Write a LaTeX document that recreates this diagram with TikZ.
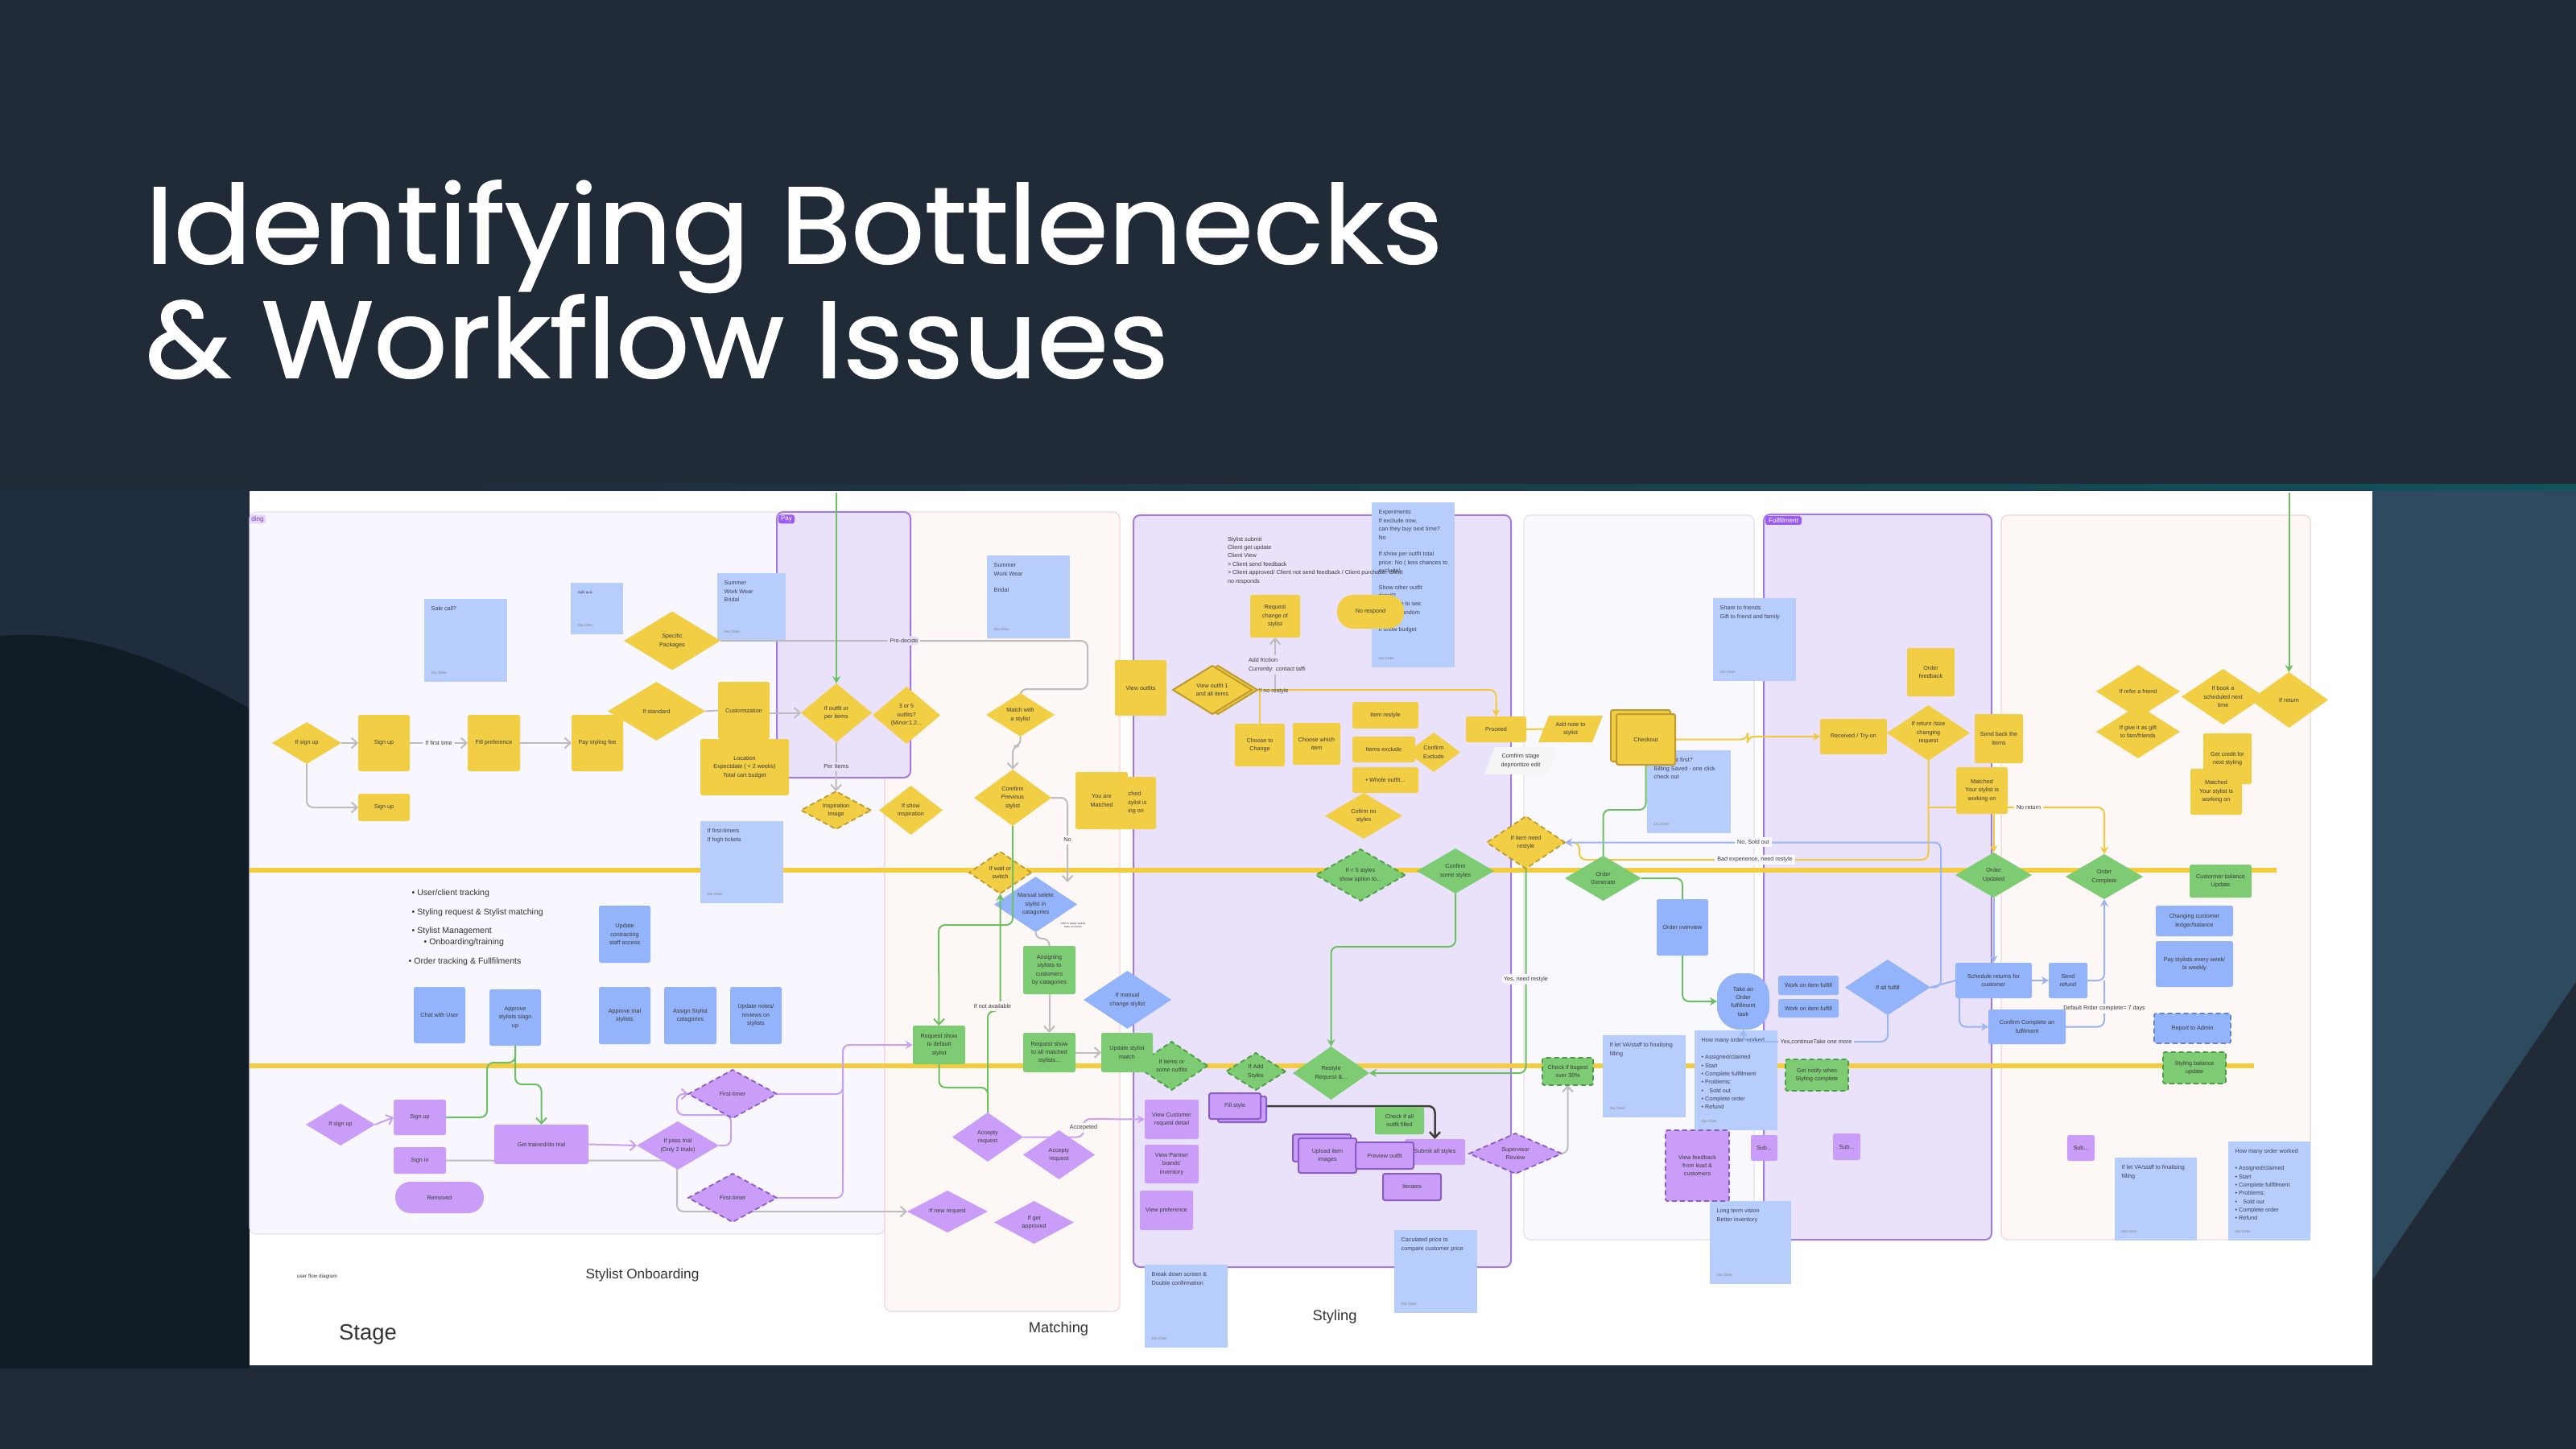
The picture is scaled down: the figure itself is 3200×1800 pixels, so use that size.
\documentclass[tikz,border=0pt]{standalone}
\usepackage{fontspec}
\usetikzlibrary{shapes.geometric,arrows.meta,fit,calc}
\newfontfamily\boardfont{Liberation Sans}
\newfontfamily\titlefont[FakeStretch=1.06,FakeBold=1.3]{Poppins}
\newcommand\tx{\boardfont\fontsize{2.05}{2.95}\selectfont}
\newcommand\txsig{\boardfont\fontsize{1.3}{1.6}\selectfont}
\definecolor{bgdark}{HTML}{212A37}
\definecolor{bgmid}{HTML}{1F2D3E}
\definecolor{bgdeep}{HTML}{111C26}
\definecolor{bgteal}{HTML}{2D4A5E}
\definecolor{yel}{HTML}{F2CE44}
\definecolor{yeld}{HTML}{BE9B2A}
\definecolor{grn}{HTML}{7DCB73}
\definecolor{grnd}{HTML}{4E9A45}
\definecolor{blu}{HTML}{93B3FA}
\definecolor{blud}{HTML}{6283CF}
\definecolor{bnote}{HTML}{B7CDFB}
\definecolor{pur}{HTML}{C99DF8}
\definecolor{purd}{HTML}{8B5CC8}
\definecolor{txt}{HTML}{3A3A3A}
\definecolor{ntxt}{HTML}{3B4058}
\definecolor{panOn}{HTML}{F8F6FE}
\definecolor{panLav}{HTML}{EAE2FB}
\definecolor{panLavB}{HTML}{A27AE6}
\definecolor{panPink}{HTML}{FDF7F5}
\definecolor{panPinkB}{HTML}{F3D5DB}
\definecolor{panWh}{HTML}{F9F8FE}
\definecolor{panWhB}{HTML}{E4DFF0}
\definecolor{lane}{HTML}{F4CD3E}
\definecolor{cgray}{HTML}{BDBDBD}
\definecolor{cgreen}{HTML}{6CC061}
\definecolor{cpur}{HTML}{C8A0F6}
\definecolor{cblue}{HTML}{9AB4F6}
\definecolor{cyel}{HTML}{F0CA3C}
\definecolor{tagp}{HTML}{9B5CF6}
\pgfdeclarelayer{bgl}\pgfdeclarelayer{notel}\pgfdeclarelayer{connl}
\pgfsetlayers{bgl,notel,connl,main}
\tikzset{
 nd/.style={font=\tx, text=txt, align=center, inner sep=0pt, outer sep=0pt},
 sz/.style args={#1/#2}{minimum width=#1mm, minimum height=#2mm},
 yb/.style={nd, rectangle, fill=yel, rounded corners=0.25mm},
 yd/.style={nd, diamond, aspect=1.6, fill=yel},
 gb/.style={nd, rectangle, fill=grn, rounded corners=0.25mm},
 gd/.style={nd, diamond, aspect=1.6, fill=grn},
 bb/.style={nd, rectangle, fill=blu, rounded corners=0.25mm},
 bd/.style={nd, diamond, aspect=1.6, fill=blu},
 pb/.style={nd, rectangle, fill=pur, rounded corners=0.25mm},
 pd/.style={nd, diamond, aspect=1.6, fill=pur},
 dsh/.style={draw=#1, line width=0.18mm, dash pattern=on 0.6mm off 0.4mm},
 bord/.style={draw=#1, line width=0.2mm},
 notebg/.style={rectangle, fill=bnote, inner sep=0pt, outer sep=0pt},
 notetx/.style={font=\tx, text=ntxt, align=left, inner sep=0pt},
 notesig/.style={font=\txsig, text=gray, inner sep=0pt},
 conn/.style={line width=0.2mm, rounded corners=0.8mm},
 gcon/.style={conn, draw=cgray},
 grcon/.style={conn, draw=cgreen},
 pcon/.style={conn, draw=cpur},
 bcon/.style={conn, draw=cblue},
 ycon/.style={conn, draw=cyel},
 dcon/.style={conn, draw=black!75, line width=0.25mm},
 opena/.style={-{Straight Barb[length=0.7mm,width=1.3mm]}},
 filla/.style={-{Stealth[length=0.9mm,width=1mm]}},
 lbl/.style={font=\tx, text=txt, inner sep=0.3mm, fill=#1},
 lbl/.default=white,
 tagst/.style={font=\boardfont\fontsize{2.3}{2.6}\selectfont, inner sep=0pt, rounded corners=0.3mm},
 heading/.style={font=\boardfont\fontsize{#1}{#1}\selectfont, text=black!80, inner sep=0pt},
 ttl/.style={font=\titlefont\fontsize{38.4}{40}\selectfont, text=white, inner sep=0pt, anchor=base west},
 bul/.style={font=\boardfont\fontsize{3}{3.6}\selectfont, text=black!80, inner sep=0pt, anchor=west},
}
\newcommand\stnote[6]{%
  \begin{pgfonlayer}{notel}
  \node[notebg, fit={(#2,#3) (#4,#5)}] (#1) {};
  \node[notetx, anchor=north west] (#1t) at ([shift={(0.8mm,-0.9mm)}]#1.north west) {#6};
  \node[notesig, anchor=south west] (#1s) at ([shift={(0.8mm,0.9mm)}]#1.south west) {Dio Chen};
  \end{pgfonlayer}}
\begin{document}
\begin{tikzpicture}[x=0.1mm,y=-0.1mm]
\useasboundingbox (0,0) rectangle (3200,1800);
\begin{pgfonlayer}{bgl}
\fill[bgdark] (0,0) rectangle (3200,1800);
\fill[bgmid] (0,606) rectangle (3200,1700);
\fill[bgdeep] (0,790) .. controls (120,780) and (220,830) .. (310,880) -- (310,1700) -- (0,1700) -- cycle;
\fill[bgteal] (2947,606) rectangle (3200,1700);
\fill[bgdark] (2947,1590) -- (3200,1220) -- (3200,1700) -- (2947,1700) -- cycle;
\shade[left color=bgmid, right color=teal!45!bgmid] (600,602) rectangle (3200,609);
\fill[white] (310,610) rectangle (2947,1696);
\filldraw[fill=panOn, draw=panWhB, line width=0.12mm, rounded corners=0.8mm] (310,636) rectangle (1099,1533);
\filldraw[fill=panPink, draw=panPinkB, line width=0.12mm, rounded corners=0.8mm] (1099,636) rectangle (1391,1629);
\filldraw[fill=panLav, draw=panLavB, line width=0.2mm, rounded corners=0.8mm] (965,636) rectangle (1131,966);
\filldraw[fill=panLav, draw=panLavB, line width=0.2mm, rounded corners=0.8mm] (1408,640) rectangle (1877,1574);
\filldraw[fill=panWh, draw=panWhB, line width=0.12mm, rounded corners=0.8mm] (1893,640) rectangle (2179,1540);
\filldraw[fill=panLav, draw=panLavB, line width=0.2mm, rounded corners=0.8mm] (2191,639) rectangle (2474,1540);
\filldraw[fill=panPink, draw=panPinkB, line width=0.12mm, rounded corners=0.8mm] (2486,640) rectangle (2870,1540);
\draw[lane, line width=0.55mm] (310,1081) -- (2828,1081);
\draw[lane, line width=0.55mm] (310,1324) -- (2800,1324);
\end{pgfonlayer}

% title
\node[ttl] (t1) at (180,327) {Identifying Bottlenecks};
\node[ttl] (t2) at (180,469) {\& Workflow Issues};

% notes
\stnote{nSale}{527}{744}{630}{847}{Sale call?}
\stnote{nSplit}{709}{724}{774}{788}{\txsig Split quiz}
\stnote{nSumA}{891}{712}{976}{796}{Summer\\Work Wear\\Bridal}
\stnote{nFirst}{870}{1020}{973}{1122}{If first-timers\\If high tickets}
\stnote{nSumB}{1226}{690}{1329}{793}{Summer\\Work Wear\\[2.95pt]Bridal}
\stnote{nExp}{1704}{624}{1807}{829}{Experiments\\If exclude now,\\can they buy next time?\\No\\[2.95pt]If show per outfit total\\price: No ( less chances to\\exclude)\\[2.95pt]Show other outfit\\detail?\\Can jump to see\\items in random\\[2.95pt]If show budget}
\stnote{nShare}{2128}{743}{2231}{846}{Share to friends\\Gift to friend and family}
\stnote{nCheck}{2046}{932}{2150}{1035}{Checkout first?\\Billing Saved - one click\\check out}
\stnote{nBreak}{1422}{1571}{1525}{1674}{Break down screen \&\\Double confirmation}
\stnote{nCalc}{1732}{1528}{1835}{1631}{Caculated price to\\compare customer price}
\stnote{nVAa}{1991}{1286}{2094}{1388}{If let VA/staff to finalising\\filling}
\stnote{nHowA}{2105}{1280}{2208}{1404}{How many order worked\\[2.95pt]• Assigned/claimed\\• Start\\• Complete fullfilment\\• Problems:\\•\quad Sold out\\• Complete order\\• Refund}
\stnote{nLong}{2124}{1492}{2225}{1595}{Long term vision\\Better inventory}
\stnote{nVAb}{2627}{1438}{2729}{1541}{If let VA/staff to finalising\\filling}
\stnote{nHowB}{2768}{1418}{2870}{1541}{How many order worked\\[2.95pt]• Assigned/claimed\\• Start\\• Complete fullfilment\\• Problems:\\•\quad Sold out\\• Complete order\\• Refund}

% free texts
\node[nd, align=left, anchor=north west] (stysub) at (1525,667) {Stylist submit\\Client get update\\Client View\\> Client send feedback\\> Client approved/ Client not send feedback / Client purchase: client\\no responds};
\node[bul] (bl1) at (511,1110) {• User/client tracking};
\node[bul] (bl2) at (511,1134) {• Styling request \& Stylist matching};
\node[bul] (bl3) at (511,1157) {• Stylist Management};
\node[bul] (bl4) at (526,1171) {• Onboarding/training};
\node[bul] (bl5) at (507,1195) {• Order tracking \& Fullfilments};
\node[heading=1.8] (ufd) at (394,1586) {user flow diagram};
\node[heading=4.9] (hOnb) at (798,1584) {Stylist Onboarding};
\node[heading=7.8] (hStage) at (457,1658) {Stage};
\node[heading=5.2] (hMatch) at (1315,1651) {Matching};
\node[heading=5.2] (hSty) at (1658,1636) {Styling};
\node[tagst, fill=pur!45, text=purd!80!black, minimum width=2mm, minimum height=1.1mm] (tOn) at (320,645) {ding};
\node[tagst, fill=tagp, text=white, minimum width=2mm, minimum height=1.1mm] (tPay) at (977,645) {Pay};
\node[tagst, fill=tagp, text=white, minimum width=4.5mm, minimum height=1.1mm] (tFul) at (2215.5,646.5) {Fullfilment};
\node[nd, font=\boardfont\fontsize{0.9}{1.1}\selectfont] (sop) at (1333,1149) {SOP to assign stylists\\base on scores};

% yellow
\node[yd, sz=8.6/5.2] (ifsignupY) at (381,923) {If sign up};
\node[yb, sz=6.4/7] (signupA) at (477,923) {Sign up};
\node[yb, sz=6.4/3.4] (signupB) at (477,1003) {Sign up};
\node[yb, sz=6.5/7] (fillpref) at (613.5,923) {Fill preference};
\node[yb, sz=6.4/7] (payfee) at (742,923) {Pay styling fee};
\node[yd, sz=12/7.3] (specpack) at (835,796) {Specific\\Packages};
\node[yd, sz=12.1/7.3] (ifstandard) at (815.5,883.5) {If standard};
\node[yb, sz=6.4/7.1] (custom) at (924,882.5) {Customization};
\node[yb, sz=11/7] (location) at (925,953) {Location\\Expectdate ( < 2 weeks)\\Total cart budget};
\node[yd, sz=8.8/7.3] (ifoutfit) at (1039,885.5) {If outfit or\\per items};
\node[yd, sz=8.4/7.1] (threefive) at (1126,888.5) {3 or 5\\outfits?\\(Minor:1.2...};
\node[yd, dsh=yeld, sz=8.7/4.7] (inspir) at (1038.5,1006.5) {Inspiration\\Image};
\node[yd, sz=7.9/6.1] (ifshow) at (1131.5,1006.5) {If show\\inspiration};
\node[yd, sz=8.5/5.4] (matchsty) at (1267.5,888) {Match with\\a stylist};
\node[yd, sz=9.6/7] (comfprev) at (1258,991) {Comfirm\\Previous\\stylist};
\node[yd, dsh=yeld, sz=7.7/5.2] (ifwait) at (1242.5,1084) {If wait or\\switch};
\node[yb, sz=6.5/6.5] (matchedbg) at (1403.5,997.5) {Matched\\Your stylist is\\working on};
\node[yb, sz=6.5/7.1] (youmatched) at (1368.5,994.5) {You are\\Matched};
\node[yb, sz=6.4/6.9] (viewoutfits) at (1417,854.5) {View outfits};
\node[yd, bord=yeld, sz=9.8/6] (viewoB) at (1513,857) {};
\node[yd, bord=yeld, sz=9.8/6] (viewoF) at (1506,857) {View outfit 1\\and all items};
\node[yb, sz=6.2/5.3] (reqchange) at (1584,765.5) {Request\\change of\\stylist};
\node[yb, sz=6.2/5.3] (choosechange) at (1565,925.5) {Choose to\\Change};
\node[yb, sz=5.9/5.2] (choosewhich) at (1635.5,924) {Choose which\\item};
\node[yb, sz=8.2/3.3] (itemrestyle) at (1721,888.5) {Item restyle};
\node[yd, sz=6.6/4.9] (confexcl) at (1781,934.5) {Confirm\\Exclude};
\node[yb, sz=7.8/3.2] (itemsexcl) at (1719,931) {Items exclude};
\node[yb, sz=8.2/3.2] (wholeoutfit) at (1721,969) {• Whole outfit...};
\node[yd, sz=9.6/5.7] (cofirmno) at (1694,1013.5) {Cofirm no\\styles};
\node[yb, sz=8.3/4.2, rounded corners=2mm] (norespond) at (1702.5,760) {No respond};
\node[yb, sz=7.5/3.2] (proceed) at (1858.5,906) {Proceed};
\fill[yel] (1924,889) -- (1991,889) -- (1978,922) -- (1911,922) -- cycle;
\node[nd, sz=6.5/3.3] (addnote) at (1951,905.5) {Add note to\\stylist};
\fill[black!4] (1857,928) -- (1935,928) -- (1922,962) -- (1844,962) -- cycle;
\node[nd] (comfstage) at (1889,945) {Comfirm stage\\deprioritize edit};
\node[yb, bord=yeld, sz=7.4/6.4] (checkoutB) at (2038,914) {};
\node[yb, bord=yeld, sz=7.3/6.3] (checkoutF) at (2044.5,918.5) {Checkout};
\node[yd, dsh=yeld, sz=9.7/6.5] (itemneed) at (1895.5,1046.5) {If item need\\restyle};
\node[yb, sz=8.3/4.4] (received) at (2302.5,915) {Received / Try-on};
\node[yb, sz=5.9/6] (orderfb) at (2398.5,835) {Order\\feedback};
\node[yd, sz=10.3/6.9] (ifretsize) at (2395.5,910.5) {If return /size\\changing\\request};
\node[yb, sz=6/6.1] (sendback) at (2483,917.5) {Send back the\\items};
\node[yb, sz=6.4/5.8] (matchedA) at (2462,982) {Matched\\Your stylist is\\working on};
\node[yd, sz=10.4/6.6] (ifrefer) at (2656,859) {If refer a friend};
\node[yd, sz=10.4/6.6] (ifgift) at (2656,909) {If give it as gift\\to fam/friends};
\node[yd, sz=10.3/6.9] (ifbook) at (2761.5,865.5) {If book a\\scheduled next\\time};
\node[yd, sz=9.7/6.9] (ifreturn) at (2843.5,869.5) {If return};
\node[yb, sz=6/6.3] (getcredit) at (2767,942.5) {Get credit for\\next styling};
\node[yb, sz=6.4/5.7] (matchedB) at (2753,983.5) {Matched\\Your stylist is\\working on};

% green
\node[gb, sz=6.5/4.8] (reqdef) at (1166.5,1298) {Request show\\to default\\stylist};
\node[gb, sz=6.5/6] (assigning) at (1303.5,1205) {Assigning\\stylists to\\customers\\by catagories};
\node[gb, sz=6.5/4.9] (reqall) at (1303.5,1307.5) {Request show\\to all matched\\stylists...};
\node[gd, dsh=grnd, sz=8.9/6] (itemsor) at (1455.5,1324) {If items or\\some outfits};
\node[gb, sz=6.4/4.9] (updmatch) at (1400,1307.5) {Update stylist\\match};
\node[gd, dsh=grnd, sz=7.4/4.6] (addsty) at (1560,1331) {If Add\\Styles};
\node[gd, sz=9.5/6.6] (restyle) at (1653.5,1333) {Restyle\\Request \&...};
\node[gb, sz=6.1/3.4] (checkall) at (1738.5,1392) {Check if all\\outfit filled};
\node[gb, dsh=grnd, sz=6.3/3.4] (checkbud) at (1947.5,1331) {Check if bugest\\over 30\%};
\node[gb, dsh=grnd, sz=7.8/3.9] (getnotify) at (2257,1335.5) {Get notify when\\Styling complete};
\node[gb, sz=7.7/4.1] (custbal) at (2758.5,1094.5) {Custormer balance\\Update};
\node[gb, dsh=grnd, sz=7.8/3.9] (stybal) at (2726,1326.5) {Styling balance\\update};
\node[gd, dsh=grnd, sz=11.1/6.4] (lt5) at (1690,1087) {If < 5 styles\\show option to...};
\node[gd, sz=9.6/5.6] (confsome) at (1808,1082) {Confirm\\some styles};
\node[gd, sz=9.5/5.6] (ordergen) at (1991.5,1091) {Order\\Generate};
\node[gd, sz=9.5/5.6] (orderupd) at (2476.5,1087) {Order\\Updated};
\node[gd, sz=9.6/5.6] (ordercomp) at (2614,1089) {Order\\Complete};

% blue
\node[bb, sz=6.4/7.1] (updcontract) at (776,1160.5) {Update\\contracting\\staff access};
\node[bb, sz=6.4/7] (chat) at (546,1261) {Chat with User};
\node[bb, sz=6.4/7] (apprsign) at (640,1264) {Approve\\stylists siagn\\up};
\node[bb, sz=6.4/7.1] (apprtrial) at (776,1261.5) {Approve trial\\stylists};
\node[bb, sz=6.5/7.1] (assignsty) at (857.5,1261.5) {Assign Stylist\\catagories};
\node[bb, sz=6.4/7.1] (updnotes) at (939,1261.5) {Update notes/\\reviews on\\stylists};
\node[bd, sz=10.3/6.9] (manualsel) at (1286.5,1123.5) {Manual selete\\stylist in\\catagories};
\node[bd, sz=10.9/7.2] (ifmanual) at (1400.5,1242) {If manual\\change stylist};
\node[bb, sz=6.4/7] (ordover) at (2090,1152) {Order overview};
\node[bb, sz=6.5/7, rounded corners=2.8mm] (takeorder) at (2165.5,1244) {Take an\\Order\\fulfillment\\task};
\node[bb, sz=7.5/2.4] (workA) at (2246.5,1224) {Work on item fulfill};
\node[bb, sz=7.5/2.3] (workB) at (2246.5,1252.5) {Work on item fulfill};
\node[bd, sz=10.6/6.9] (ifallful) at (2345,1226.5) {If all fulfill};
\node[bb, sz=9.5/4.4] (schedule) at (2476.5,1218) {Schedule returns for\\customer};
\node[bb, sz=4.8/4.4] (sendref) at (2569,1218) {Send\\refund};
\node[bb, sz=9.6/4.3] (confcomp) at (2518,1275.5) {Confirm Complete an\\fulfilment};
\node[bb, dsh=blud, sz=9.5/3.7] (report) at (2723.5,1277.5) {Report to Admin};
\node[bb, sz=9.6/5.7] (paysty) at (2726,1197.5) {Pay stylists every week/\\bi weekly};
\node[bb, sz=9.6/3.8] (ledger) at (2726,1144) {Changing customer\\ledger/balance};

% purple
\node[pd, sz=8.6/5.2] (pifsignup) at (423,1397) {If sign up};
\node[pb, sz=6.5/4.4] (psignup) at (521.5,1388) {Sign up};
\node[pb, sz=6.5/3.3] (psignin) at (521.5,1441.5) {Sign in};
\node[pb, sz=11/3.9, rounded corners=1.9mm] (removed) at (546,1487.5) {Removed};
\node[pb, sz=11.7/4.9] (gettrained) at (672.5,1421.5) {Get trained/do trial};
\node[pd, sz=10.2/6] (ptrial) at (842,1423) {If pass trial\\(Only 2 trials)};
\node[pd, dsh=purd, sz=11/6] (firstA) at (910,1359) {First-timer};
\node[pd, dsh=purd, sz=11/6] (firstB) at (910,1488) {First-timer};
\node[pd, sz=8.8/6.1] (accA) at (1227,1412.5) {Accepty\\request};
\node[pd, sz=8.9/6.1] (accB) at (1315.5,1434.5) {Accepty\\request};
\node[pd, sz=10/5.2] (ifnew) at (1177,1505) {If new request};
\node[pd, sz=9.9/5.3] (ifappr) at (1284.5,1518.5) {If get\\approved};
\node[pb, sz=6.7/4.9] (viewcust) at (1455.5,1390.5) {View Customer\\request detail};
\node[pb, sz=6.7/4.8] (viewpart) at (1455.5,1446) {View Partner\\brands'\\inventory};
\node[pb, sz=6.6/4.9] (viewpref) at (1449,1503.5) {View preference};
\node[pb, bord=purd, sz=6/3.2] (fillB) at (1543,1378) {};
\node[pb, bord=purd, sz=6.4/3.2] (fillF) at (1534,1374) {Fill style};
\node[pb, bord=purd, sz=7.2/3.4] (uploadB) at (1642,1426) {};
\node[pb, bord=purd, sz=7.2/4.3] (uploadF) at (1649,1435.5) {Upload item\\images};
\node[pb, sz=7.5/3.2] (submit) at (1782.5,1431) {Submit all styles};
\node[pb, bord=purd, sz=7.2/3.3] (preview) at (1720,1435.5) {Preview outfit};
\node[pb, bord=purd, sz=7.2/3.3] (iterates) at (1754,1474.5) {Iterates};
\node[pd, dsh=purd, sz=11.5/5] (superv) at (1882.5,1433) {Supervisor\\Review};
\node[pb, dsh=purd, sz=7.9/8.8] (viewfb) at (2108.5,1448) {View feedback\\from lead \&\\customers};
\node[pb, sz=3.3/3.2] (subA) at (2191.5,1426) {Sub...};
\node[pb, sz=3.4/3.3] (subB) at (2294,1424.5) {Sub...};
\node[pb, sz=3.4/3.2] (subC) at (2585,1426) {Sub...};

% connectors on top
\draw[grcon,opena] (comfprev.south) |- (1166,1149) -- (reqdef.north);
\draw[grcon,filla] (accA.north) -- (1227,1256) -| (ifwait.south);
\node[lbl=panPink] (lNA) at (1233,1250) {If not available};

% connectors
\begin{pgfonlayer}{connl}
\coordinate (gTopA) at (1039,612);
\coordinate (gTopB) at (2843.5,612);
\coordinate (noEnd) at (1326,1096);
\coordinate (fricStart) at (1584,857);
\coordinate (ySplit) at (1565,857);
\coordinate (yNRa) at (2395.5,1003);
\coordinate (yNRb) at (2430,1003);
\coordinate (yNRc) at (2494,1003);
\coordinate (bSch) at (2434,1240);
% gray
\draw[gcon,opena] (ifsignupY.east) -- (signupA.west);
\draw[gcon,opena] (ifsignupY.south) |- (signupB.west);
\draw[gcon,opena] (signupA.east) -- node[lbl=panOn] (lFirst) {If first time} (fillpref.west);
\draw[gcon,opena] (fillpref.east) -- (payfee.west);
\draw[gcon] (ifstandard.east) -- (custom.west);
\draw[gcon,opena] (custom.east |- ifoutfit.west) -- (ifoutfit.west);
\draw[gcon,opena] (specpack.east) -- node[lbl=panLav] (lPre) {Pre-decide} (1351,796) -- (1351,856) -- (1267.5,856) -- (matchsty.north);
\draw[gcon,opena] (ifoutfit.south) -- node[lbl=panLav] (lPer) {Per Items} (inspir.north);
\draw[gcon,opena] (matchsty.south) -- ++(0,12) -| (comfprev.north);
\draw[gcon,opena] (comfprev.east) -| node[lbl=panPink, pos=0.75] (lNo) {No} (noEnd);
\draw[gcon,opena] (fricStart) -- (reqchange.south);
\node[nd, align=left, anchor=west, fill=panLav, inner sep=0.3mm] (lFric) at (1548,826) {Add friction\\Currently: contact taffi};
\draw[gcon] (manualsel.south) -- ++(0,8) -| (assigning.north);
\draw[gcon,opena] (assigning.south) -- (reqall.north);
\draw[gcon,opena] (reqall.east) -- (updmatch.west);
\draw[gcon,opena] (psignin.east) -- (841,1441.5) |- (ifnew.west);
\draw[gcon,opena] (superv.east) -| (checkbud.south);
% green
\draw[grcon,filla] (gTopA) -- (ifoutfit.north);
\draw[grcon,filla] (gTopB) -- (ifreturn.north);
\draw[grcon] (reqdef.south) |- (1227,1351) -- (accA.north);
\draw[grcon] (psignup.east) -| (605,1320) -| (apprsign.south);
\draw[grcon,opena] (apprsign.south) |- (672.5,1347) -- (gettrained.north);
\draw[grcon] (ordergen.north) |- (2044.5,1006) -- (checkoutF.south);
\draw[grcon] (ordergen.east) -| (ordover.north);
\draw[grcon,filla] (ordover.south) |- (takeorder.west);
\draw[grcon,filla] (confsome.south) |- (1653.5,1176) -- (restyle.north);
\draw[grcon,filla] (itemneed.south) |- node[lbl=panWh, pos=0.27] (lYes) {Yes, need restyle} (restyle.east);
% purple
\draw[pcon,opena] (pifsignup.east) -- (psignup.west);
\draw[pcon,opena] (gettrained.east) -- (ptrial.west);
\draw[pcon,opena] (ptrial.east) -- (908,1423) -- (908,1385) -- (841,1385) -- (841,1359) -- (firstA.west);
\draw[pcon,filla] (firstA.east) -| (1047,1298) -- (reqdef.west);
\draw[pcon] (firstB.east) -| (1047,1340);
\draw[pcon,filla] (accA.east) -| (1346,1390) -- (viewcust.west);
\node[lbl=panPink] (lAcc) at (1346,1401) {Accepeted};
% dark
\draw[dcon,opena] (fillF.east) -| (submit.north);
% yellow
\draw[ycon,filla] (viewoB.east) -| (proceed.north);
\node[nd] (lNoRe) at (1582,859) {If no restyle};
\draw[ycon] (ySplit) -- (choosechange.north);
\draw[ycon] (proceed.east) -- (addnote.west);
\draw[ycon,filla] (checkoutF.east) -- (2171,918.5) -- (2171,915) -- (received.west);
\draw[ycon,filla] (ifretsize.south) |- (1962,1068) |- (itemneed.east);
\node[lbl=panWh] (lBad) at (2180,1068) {Bad experience, need restyle};
\draw[ycon] (yNRa) -- (yNRb);
\draw[ycon,filla] (yNRc) -| (ordercomp.north);
\node[lbl=panPink] (lNoRet) at (2520,1003) {No return};
\draw[ycon,filla] (orderupd.north |- matchedA.south) -- (orderupd.north);
% blue
\draw[bcon,filla] (ifallful.east) -- (2411,1226.5) |- (itemneed.east);
\node[lbl=panWh] (lSold) at (2178,1046) {No, Sold out};
\draw[bcon] (ifallful.east) -- (schedule.west);
\draw[bcon,filla] (bSch) |- (confcomp.west);
\draw[bcon,filla] (schedule.east) -- (sendref.west);
\draw[bcon,filla] (sendref.east) -| (ordercomp.south);
\draw[bcon] (confcomp.east) -| (2614,1218);
\node[lbl=panPink] (lDef) at (2614,1253) {Default Rrder complete= 7 days};
\draw[bcon,filla] (orderupd.south) -- (schedule.north);
\draw[bcon,filla] (ifallful.south) |- (2165.5,1294) -- (takeorder.south);
\node[lbl=panLav] (lYesC) at (2256,1294) {Yes,continueTake one more};
\end{pgfonlayer}
\end{tikzpicture}
\end{document}
